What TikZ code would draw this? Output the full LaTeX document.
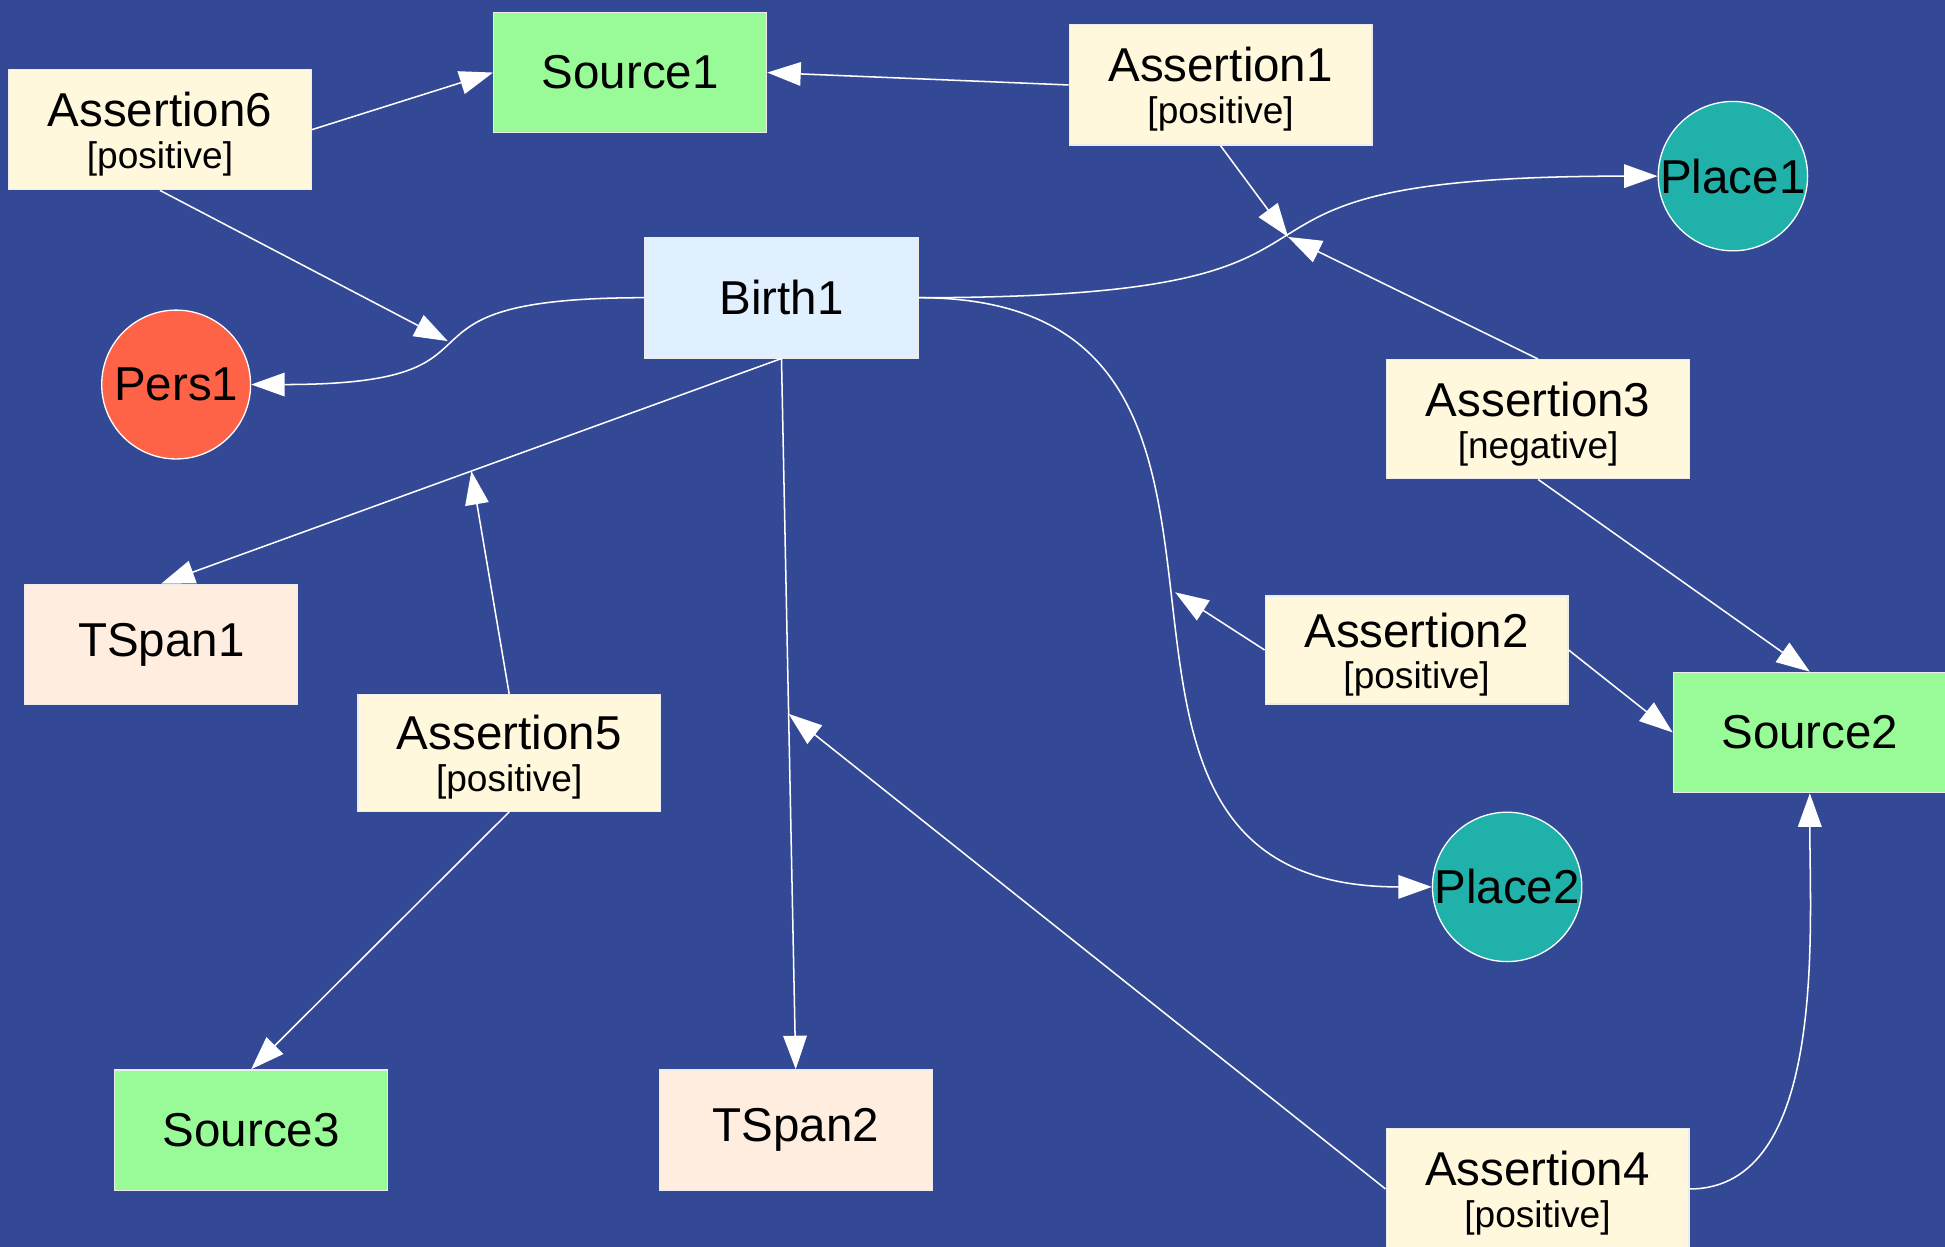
\documentclass[tikz,border=0pt]{standalone}
\usepackage{fontspec}
\setmainfont{Liberation Sans}
\usepackage{xcolor}
\usepackage{tikz}
\usetikzlibrary{shapes,arrows,positioning,calc,arrows.meta}

\definecolor{bgblue}{RGB}{52,73,150}
\definecolor{assertcol}{HTML}{FFF8DC}
\definecolor{sourcecol}{HTML}{98FB98}
\definecolor{eventcol}{HTML}{E0F0FF}
\definecolor{spancol}{HTML}{FFEEE0}
\definecolor{placecol}{HTML}{20B2AA}
\definecolor{perscol}{HTML}{FF6347}

\newcommand{\polfont}{\fontsize{8.5}{10}\selectfont}

\tikzset{
  box/.style={rectangle, draw=white!85!gray, line width=0.3pt, inner sep=0pt,
    minimum width=2.2cm, minimum height=0.97cm, font=\fontsize{10.9}{13}\selectfont},
  source/.style={box, fill=sourcecol},
  event/.style={box, fill=eventcol},
  tspan/.style={box, fill=spancol},
  assertion/.style={box, fill=assertcol, minimum width=2.44cm, align=center},
  place/.style={circle, draw=white, line width=0.3pt, inner sep=0pt, minimum size=1.2cm,
    fill=placecol, font=\fontsize{10.9}{13}\selectfont},
  pers/.style={place, fill=perscol},
  link/.style={->, white, line width=0.35pt},
}

\begin{document}
\begin{tikzpicture}[>={Triangle[length=2.7mm,width=1.9mm]}]
    % Background
    \fill[bgblue] (0,0) rectangle (15.68,-10.05);
    \useasboundingbox (0,0) rectangle (15.68,-10.05);

    % Nodes
    \node[source] (s1) at (5.08,-0.585) {Source1};
    \node[assertion] (a1) at (9.84,-0.685) {\rule{0pt}{10pt}Assertion1\\[-3.4pt]\polfont[positive]};
    \node[assertion] (a6) at (1.29,-1.045) {\rule{0pt}{10pt}Assertion6\\[-3.4pt]\polfont[positive]};
    \node[place] (p1) at (13.97,-1.42) {Place1};
    \node[event] (b1) at (6.30,-2.40) {Birth1};
    \node[pers] (pe1) at (1.42,-3.10) {Pers1};
    \node[assertion, minimum height=0.96cm] (a3) at (12.40,-3.38) {\rule{0pt}{10pt}Assertion3\\[-3.4pt]\polfont[negative]};
    \node[tspan] (t1) at (1.30,-5.195) {TSpan1};
    \node[assertion, minimum height=0.87cm] (a2) at (11.42,-5.24) {\rule{0pt}{10pt}Assertion2\\[-3.4pt]\polfont[positive]};
    \node[assertion, minimum height=0.94cm] (a5) at (4.105,-6.07) {\rule{0pt}{10pt}Assertion5\\[-3.4pt]\polfont[positive]};
    \node[source] (s2) at (14.59,-5.905) {Source2};
    \node[place] (p2) at (12.15,-7.15) {Place2};
    \node[source] (s3) at (2.025,-9.11) {Source3};
    \node[tspan] (t2) at (6.415,-9.11) {TSpan2};
    \node[assertion] (a4) at (12.395,-9.585) {\rule{0pt}{10pt}Assertion4\\[-3.4pt]\polfont[positive]};

    % Relations of Birth1
    \draw[link] (b1.west) to[out=180,in=0,looseness=1.8] coordinate[pos=0.5] (pe1mid) (pe1.east);
    \draw[link] (b1.east) to[out=0,in=180,looseness=1.8] coordinate[pos=0.5] (p1mid) (p1.west);
    \draw[link] (b1.east) to[out=0,in=180,looseness=1.4] coordinate[pos=0.5] (p2mid) (p2.west);
    \draw[link] (b1.south) -- coordinate[pos=0.5] (t1mid) (t1.north);
    \draw[link] (b1.south) -- coordinate[pos=0.5] (t2mid) (t2.north);

    % Assertions onto relations
    \draw[link] (a6.south) -- (pe1mid);
    \draw[link] (a1.south) -- (p1mid);
    \draw[link] (a3.north) -- (p1mid);
    \draw[link] (a2.west) -- (p2mid);
    \draw[link] (a5.north) -- (t1mid);
    \draw[link] (a4.west) -- (t2mid);

    % Sources
    \draw[link] (a6.east) -- (s1.west);
    \draw[link] (a1.west) -- (s1.east);
    \draw[link] (a3.south) -- (s2.north);
    \draw[link] (a2.east) -- (s2.west);
    \draw[link] (a4.east) to[out=0,in=-90,looseness=0.85] (s2.south);
    \draw[link] (a5.south) -- (s3.north);
\end{tikzpicture}
\end{document}
